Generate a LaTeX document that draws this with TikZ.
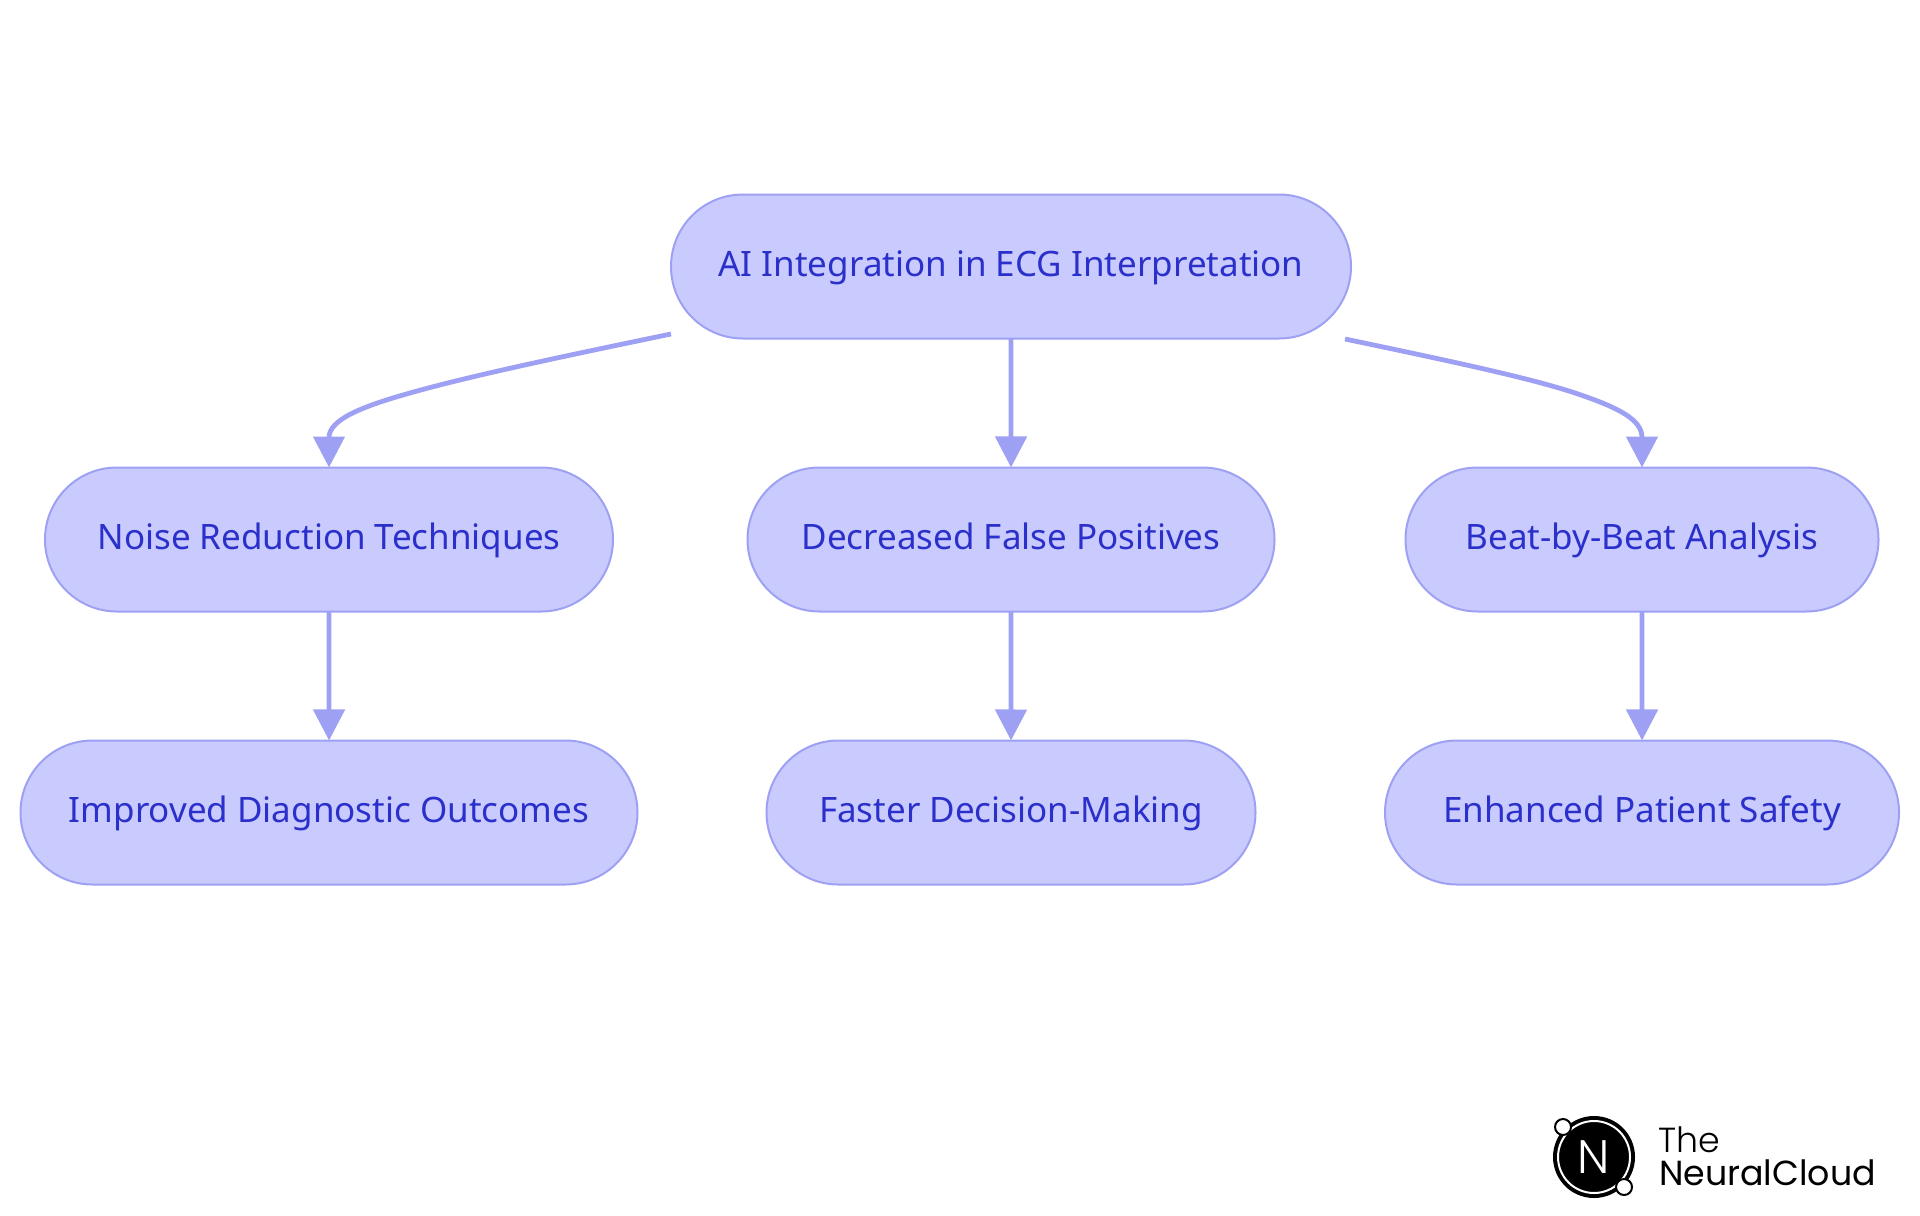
\documentclass[tikz,border=0pt]{standalone}
\usepackage{fontspec}
\setmainfont{Noto Sans}
\newfontfamily\logofont{Poppins}
\newfontfamily\logothin{Poppins Light}
\usetikzlibrary{arrows.meta,shapes.misc}
\definecolor{pillfill}{HTML}{C9CBFE}
\definecolor{pillline}{HTML}{9EA1F3}
\definecolor{pilltext}{HTML}{2B30CB}
\tikzset{
	pill/.style={draw=pillline,fill=pillfill,line width=1pt,rounded rectangle,minimum height=72pt,inner sep=0pt,outer sep=0pt,text=pilltext,text height=15pt,text depth=5.5pt,font=\fontsize{17.5}{20}\selectfont},
	link/.style={draw=pillline,line width=2.4pt,-{Triangle[length=15.5pt,width=15.5pt]}},
	logotext/.style={inner sep=0pt,outer sep=0pt,anchor=base west,text=black,font=\logofont\fontsize{17.4}{20}\selectfont},
	dot/.style={circle,draw=black,fill=white,line width=1pt,minimum size=8pt,inner sep=0pt},
}
\begin{document}
\begin{tikzpicture}[x=.5pt,y=-.5pt]
	\useasboundingbox (0,0) rectangle (1920,1215);
	% first row
	\node[pill,minimum width=340pt] (ai) at (1011,266.5){AI Integration in ECG Interpretation};
	% second row
	\node[pill,minimum width=284pt] (noise) at (329,539.5){Noise Reduction Techniques};
	\node[pill,minimum width=263.5pt] (false) at (1011,539.5){Decreased False Positives};
	\node[pill,minimum width=236.5pt] (beat) at (1642,539.5){Beat-by-Beat Analysis};
	% third row
	\node[pill,minimum width=308.5pt] (outcomes) at (329,812.5){Improved Diagnostic Outcomes};
	\node[pill,minimum width=244.5pt] (decision) at (1011,812.5){Faster Decision-Making};
	\node[pill,minimum width=257pt] (safety) at (1642,812.5){Enhanced Patient Safety};
	% free ends of the two curved links
	\coordinate (aileft) at (671,334);
	\coordinate (airight) at (1345,339);
	\draw[link] (aileft) .. controls (560,357) and (470,376) .. (410,393) .. controls (360,407) and (329,420) .. (noise.north);
	\draw[link] (ai)--(false);
	\draw[link] (airight) .. controls (1450,361) and (1530,378) .. (1575,393) .. controls (1620,408) and (1642,420) .. (beat.north);
	\draw[link] (noise)--(outcomes);
	\draw[link] (false)--(decision);
	\draw[link] (beat)--(safety);
	% logo
	\node[circle,fill=black,minimum size=41pt,inner sep=0pt] (badge) at (1594,1157){};
	\node[circle,draw=white,line width=1pt,minimum size=36pt,inner sep=0pt] (ring) at (badge){};
	\node[inner sep=0pt,text=white,font=\logothin\fontsize{23.5}{23.5}\selectfont] (letter) at (badge){N};
	\node[dot] (dota) at (1563,1127){};
	\node[dot] (dotb) at (1624,1187){};
	\node[logotext,font=\logothin\fontsize{17.4}{20}\selectfont] (the) at (1658,1152){The};
	\node[logotext] (cloud) at (1659,1185){NeuralCloud};
\end{tikzpicture}
\end{document}
